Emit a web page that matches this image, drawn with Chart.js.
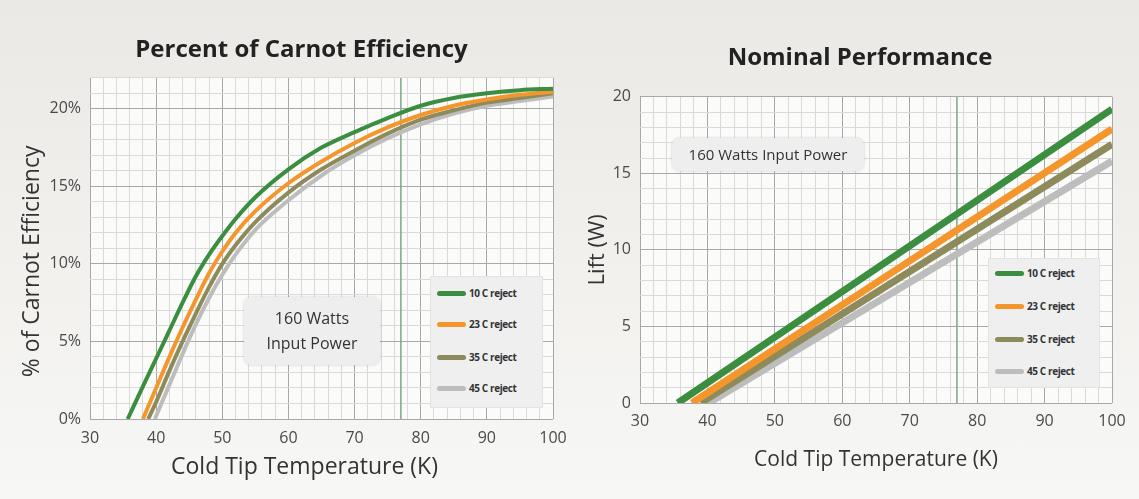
<!DOCTYPE html>
<html><head><meta charset="utf-8">
<script src="https://cdn.jsdelivr.net/npm/chart.js@4/dist/chart.umd.min.js"></script>
<style>
html,body{margin:0;padding:0;}
body{width:1139px;height:499px;overflow:hidden;position:relative;background:linear-gradient(#ebe9e5,#f7f7f5);font-family:"Open Sans",sans-serif;}
.cv{position:absolute;top:0;height:499px;}
#w1{left:0;width:603px;}
#w2{left:581px;width:558px;}
.legend{position:absolute;background:#efefef;border:1px solid #e3e3e3;}
.item{position:absolute;left:6px;height:12px;display:flex;align-items:center;font-size:10px;font-weight:700;color:#333;letter-spacing:-0.4px;white-space:nowrap;}
.swatch{width:29px;height:5px;border-radius:3px;margin-right:3px;}
.note{position:absolute;background:#eeeeee;border-radius:8px;box-shadow:0 0 3px rgba(0,0,0,0.18);color:#333;text-align:center;}
</style></head>
<body>
<div class="cv" id="w1"><canvas id="c1"></canvas></div>
<div class="cv" id="w2"><canvas id="c2"></canvas></div>
<div class="note" style="left:244px;top:297px;width:136px;height:68px;font-size:16px;line-height:25px;padding-top:9px;box-sizing:border-box;">160 Watts<br>Input Power</div>
<div class="note" style="left:672px;top:138px;width:192px;height:33px;font-size:15px;line-height:33px;">160 Watts Input Power</div>
<div class="legend" id="lg1" style="left:430px;top:276px;width:111px;height:130px;"></div>
<div class="legend" id="lg2" style="left:988px;top:258px;width:110px;height:128px;"></div>
<script>
// ---- data ----
const seriesLabels = ['10 C reject', '23 C reject', '35 C reject', '45 C reject'];
const seriesColors = ['#3b8d3f', '#f4962b', '#8d8a5b', '#bdbdbd'];
const markerTemp = 77;

// Percent of Carnot Efficiency (%), vs cold tip temperature (K)
const effTemp10 = [35.7, 38, 40, 42, 44, 46, 48, 50, 52, 55, 60, 65, 70, 75, 80, 85, 90, 95, 100];
const eff10     = [0, 2.1, 3.9, 5.7, 7.5, 9.2, 10.6, 11.8, 12.9, 14.3, 16.1, 17.5, 18.5, 19.4, 20.2, 20.7, 21.0, 21.2, 21.3];
const effTemp23 = [38, 40, 42, 44, 46, 48, 50, 52, 55, 60, 65, 70, 75, 80, 85, 90, 95, 100];
const eff23     = [0, 2.0, 4.0, 5.9, 7.7, 9.4, 10.8, 12.0, 13.4, 15.2, 16.6, 17.8, 18.8, 19.6, 20.2, 20.6, 20.9, 21.1];
const effTemp35 = [38.8, 40, 42, 44, 46, 48, 50, 52, 55, 60, 65, 70, 75, 80, 85, 90, 95, 100];
const eff35     = [0, 1.1, 3.1, 5.0, 6.8, 8.5, 10.0, 11.2, 12.7, 14.6, 16.1, 17.3, 18.4, 19.3, 19.9, 20.4, 20.7, 21.0];
const effTemp45 = [39.8, 42, 44, 46, 48, 50, 52, 55, 60, 65, 70, 75, 80, 85, 90, 95, 100];
const eff45     = [0, 2.2, 4.2, 6.1, 7.8, 9.3, 10.6, 12.2, 14.1, 15.7, 17.0, 18.1, 19.0, 19.7, 20.2, 20.5, 20.8];

// Nominal performance: Lift (W) vs cold tip temperature (K)
const liftTemp10 = [35.6, 100];  const lift10 = [0, 19.2];
const liftTemp23 = [37.7, 100];  const lift23 = [0, 17.9];
const liftTemp35 = [39.0, 100];  const lift35 = [0, 16.9];
const liftTemp45 = [40.2, 100];  const lift45 = [0, 15.8];

const xTicks = [30, 40, 50, 60, 70, 80, 90, 100];
const effTicks = [0, 5, 10, 15, 20];
const liftTicks = [0, 5, 10, 15, 20];

// ---- helpers ----
const pts = (xs, ys) => xs.map((x, i) => ({x: x, y: ys[i]}));
const FONT = '"Open Sans", sans-serif';
const plotBg = {id: 'plotBg', beforeDraw(chart) {
  const {ctx, chartArea: a} = chart;
  ctx.save(); ctx.fillStyle = '#fbfbfa'; ctx.fillRect(a.left, a.top, a.width, a.height); ctx.restore();
}};
// axis titles drawn as canvas text, positioned relative to the chart area
const axisTitles = {id: 'axisTitles', afterDraw(chart, args, o) {
  const {ctx, chartArea: a} = chart;
  ctx.save(); ctx.fillStyle = '#333'; ctx.textAlign = 'center'; ctx.textBaseline = 'middle';
  ctx.font = o.xSize + 'px ' + FONT;
  ctx.fillText(o.xText, (a.left + a.right) / 2 + o.xShift, a.bottom + o.xDrop);
  ctx.translate(a.left - o.yGap, (a.top + a.bottom) / 2 + o.yShift); ctx.rotate(-Math.PI / 2);
  ctx.font = o.ySize + 'px ' + FONT;
  ctx.fillText(o.yText, 0, 0);
  ctx.restore();
}};
const gridCol = (major) => (c) => (c.tick && major(c.tick.value)) ? '#a8a8a8' : '#dadada';

function makeChart(id, cfg) {
  const sets = cfg.series.map((s, i) => ({
    label: seriesLabels[i], data: pts(s[0], s[1]), borderColor: seriesColors[i], backgroundColor: seriesColors[i],
    borderWidth: cfg.lw, pointRadius: 0, fill: false, cubicInterpolationMode: 'monotone', borderCapStyle: 'butt'
  }));
  sets.push({label: 'marker', data: [{x: markerTemp, y: cfg.ymin}, {x: markerTemp, y: cfg.ymax}],
    borderColor: '#7da58a', borderWidth: 1.5, pointRadius: 0});
  return new Chart(document.getElementById(id), {
    type: 'line',
    data: {datasets: sets},
    plugins: [plotBg, axisTitles],
    options: {
      responsive: true, maintainAspectRatio: false, animation: false,
      layout: {padding: 0},
      plugins: {
        legend: {display: false}, tooltip: {enabled: false},
        title: {display: true, text: cfg.title, color: '#222', font: {family: FONT, size: 24, weight: '700'},
          padding: cfg.titlePad},
        axisTitles: cfg.axisTitles
      },
      scales: {
        x: {type: 'linear', min: 30, max: 100,
          afterFit(s) { s.height = cfg.xh; },
          border: {display: false},
          grid: {color: gridCol(v => xTicks.includes(v)), drawTicks: false, lineWidth: 1},
          ticks: {stepSize: 2, autoSkip: false, maxRotation: 0, padding: cfg.xtp, color: '#4a4a4a',
            font: {family: FONT, size: 16}, callback: v => xTicks.includes(v) ? String(v) : ''}
        },
        y: {type: 'linear', min: cfg.ymin, max: cfg.ymax, position: 'left',
          afterFit(s) { s.width = cfg.yw; },
          border: {display: false},
          grid: {color: gridCol(v => cfg.yTicks.includes(v)), drawTicks: false, lineWidth: 1},
          ticks: {stepSize: 1, autoSkip: false, padding: 9, color: '#4a4a4a',
            font: {family: FONT, size: 16}, callback: v => cfg.yTicks.includes(v) ? v + cfg.ySuffix : ''}
        },
        yR: {type: 'linear', position: 'right', display: true, min: 0, max: 1,
          afterFit(s) { s.width = cfg.yrw; },
          border: {display: false}, grid: {display: false}, ticks: {display: false}}
      }
    }
  });
}

makeChart('c1', {
  title: 'Percent of Carnot Efficiency', titlePad: {top: 36, bottom: 13},
  series: [[effTemp10, eff10], [effTemp23, eff23], [effTemp35, eff35], [effTemp45, eff45]],
  lw: 4, ymin: 0, ymax: 22, yTicks: effTicks, ySuffix: '%',
  xh: 80, xtp: 10, yw: 90, yrw: 50,
  axisTitles: {xText: 'Cold Tip Temperature (K)', xSize: 23, xShift: -17, xDrop: 48,
               yText: '% of Carnot Efficiency', ySize: 23, yGap: 58, yShift: 13}
});
makeChart('c2', {
  title: 'Nominal Performance', titlePad: {top: 44, bottom: 24},
  series: [[liftTemp10, lift10], [liftTemp23, lift23], [liftTemp35, lift35], [liftTemp45, lift45]],
  lw: 7, ymin: 0, ymax: 20, yTicks: liftTicks, ySuffix: '',
  xh: 96, xtp: 9, yw: 59, yrw: 27,
  axisTitles: {xText: 'Cold Tip Temperature (K)', xSize: 21, xShift: 0, xDrop: 57,
               yText: 'Lift (W)', ySize: 22, yGap: 42, yShift: 0}
});

// legends (HTML overlays)
function legend(id, tops) {
  const el = document.getElementById(id);
  seriesLabels.forEach((lab, i) => {
    const d = document.createElement('div');
    d.className = 'item'; d.style.top = tops[i] + 'px';
    d.innerHTML = '<span class="swatch" style="background:' + seriesColors[i] + '"></span>' + lab;
    el.appendChild(d);
  });
}
legend('lg1', [10, 41, 74, 105]);
legend('lg2', [8, 41, 74, 106]);
</script>
</body></html>
